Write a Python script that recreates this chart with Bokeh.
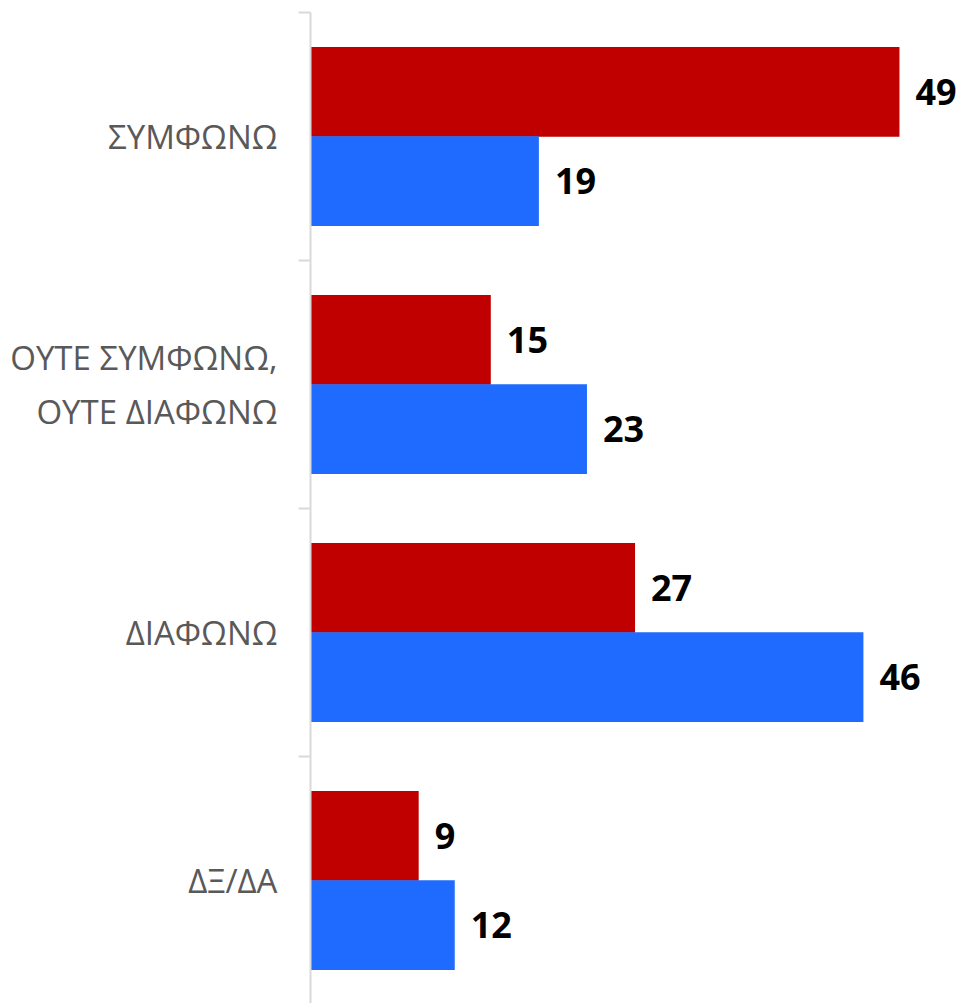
from bokeh.plotting import figure
from bokeh.models import Range1d, FixedTicker, LabelSet, ColumnDataSource
from bokeh.core.properties import value
from bokeh.embed import file_html
from bokeh.resources import INLINE

categories = ["ΣΥΜΦΩΝΩ", "ΟΥΤΕ ΣΥΜΦΩΝΩ,\nΟΥΤΕ ΔΙΑΦΩΝΩ", "ΔΙΑΦΩΝΩ", "ΔΞ/ΔΑ"]
series_red = [49, 15, 27, 9]
series_blue = [19, 23, 46, 12]

RED = "#C00000"
BLUE = "#1F6AFF"
FONT = "Open Sans"

n = len(categories)
centers = [n - 0.5 - i for i in range(n)]
off = 0.18
bar_h = 0.362

W, H = 959, 1003
left = 310
top = 12
frame_w = W - left
frame_h = H - top
px_per_unit = 12.02
cat_px = 248.0

p = figure(width=W, height=H, output_backend="svg", toolbar_location=None,
           x_range=Range1d(0, frame_w / px_per_unit),
           y_range=Range1d(n - frame_h / cat_px, n))
p.min_border_left = left
p.min_border_right = 0
p.min_border_top = top
p.min_border_bottom = 0
p.outline_line_color = None
p.xgrid.visible = False
p.ygrid.visible = False
p.xaxis.visible = False

src_r = ColumnDataSource(dict(y=[c + off for c in centers], v=series_red,
                              t=[str(v) for v in series_red]))
src_b = ColumnDataSource(dict(y=[c - off for c in centers], v=series_blue,
                              t=[str(v) for v in series_blue]))

p.hbar(y="y", right="v", left=0, height=bar_h, source=src_r,
       fill_color=RED, line_color=None)
p.hbar(y="y", right="v", left=0, height=bar_h, source=src_b,
       fill_color=BLUE, line_color=None)

for src in (src_r, src_b):
    p.add_layout(LabelSet(x="v", y="y", text="t", source=src, x_offset=16,
                          text_baseline="middle", text_align="left",
                          text_font=value(FONT), text_font_style="bold",
                          text_font_size="36px", text_color="black"))

ax = p.yaxis[0]
ax.ticker = FixedTicker(ticks=centers, minor_ticks=[float(i) for i in range(n + 1)])
ax.major_label_overrides = {c: lab for c, lab in zip(centers, categories)}
ax.major_tick_line_color = None
ax.major_tick_out = 0
ax.major_tick_in = 0
ax.minor_tick_out = 12
ax.minor_tick_in = 0
ax.minor_tick_line_color = "#D9D9D9"
ax.minor_tick_line_width = 2
ax.axis_line_color = "#D9D9D9"
ax.axis_line_width = 2
ax.major_label_standoff = 21
ax.major_label_text_font = FONT
ax.major_label_text_font_size = "33px"
ax.major_label_text_color = "#595959"

open("out.html", "w").write(file_html(p, INLINE))
